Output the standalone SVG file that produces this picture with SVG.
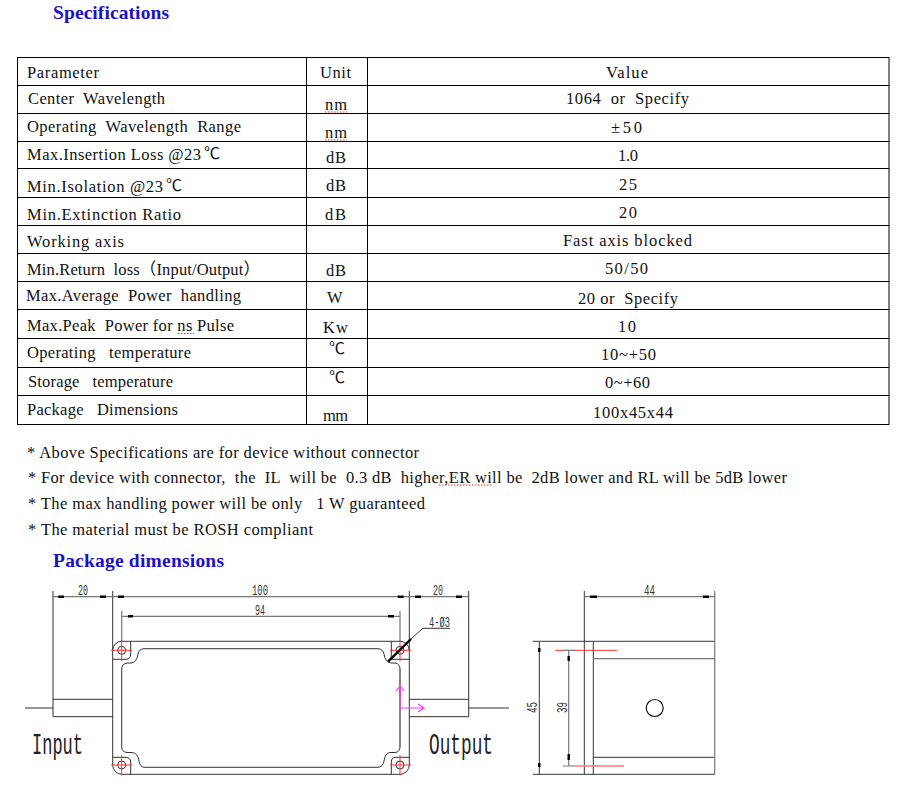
<svg xmlns="http://www.w3.org/2000/svg" width="907" height="789" viewBox="0 0 907 789">
<style>
text{font-family:"Liberation Serif","Noto Sans CJK SC",serif;font-size:16.5px;fill:#111;white-space:pre}
.h{font-weight:bold;font-size:19.5px;fill:#1c10c8}
.d{font-family:"Liberation Mono",monospace;font-size:14px;fill:#333}
.big{font-family:"Liberation Mono",monospace;font-size:30px;fill:#222}
.c{font-family:"Noto Sans CJK SC","Liberation Serif",sans-serif;font-size:16px}
.t{stroke:#000;stroke-width:1;fill:none}
.l{stroke:#333;stroke-width:1;fill:none}
.g{stroke:#777;stroke-width:1.2;fill:none}
.k{stroke:#000;stroke-width:2.4;fill:none}
.r{stroke:#f33;stroke-width:1;fill:none}
.rg{stroke:#f77;stroke-width:1.3;fill:none}
.m{stroke:#f3f;stroke-width:1.2;fill:none}
.w{stroke:#d33;stroke-width:1;fill:none;stroke-dasharray:1.5 1.5}
</style>
<rect width="907" height="789" fill="#fff"/>
<g id="headings">
<text class="h" x="53" y="18.5" textLength="116">Specifications</text>
<text class="h" x="53" y="566.5" textLength="171">Package dimensions</text>
</g>
<g id="table-grid">
<rect class="t" x="17.5" y="57.5" width="871.5" height="367"/>
<path class="t" d="M306.5 57.5V424.5M367.5 57.5V424.5M17.5 85.5H889M17.5 113.5H889M17.5 141.5H889M17.5 168.5H889M17.5 197.5H889M17.5 225.5H889M17.5 253.5H889M17.5 281.5H889M17.5 309.5H889M17.5 338.5H889M17.5 367.5H889M17.5 395.5H889"/>
</g>
<g id="table-parameter">
<text x="27" y="77.7" textLength="72">Parameter</text>
<text x="28" y="104" textLength="137">Center  Wavelength</text>
<text x="27" y="132" textLength="214">Operating  Wavelength  Range</text>
<text x="27" y="160" textLength="174">Max.Insertion Loss @23</text><text class="c" x="204" y="159">℃</text>
<text x="27" y="191.5" textLength="136">Min.Isolation @23</text><text class="c" x="166" y="190.5">℃</text>
<text x="27" y="219.7" textLength="154">Min.Extinction Ratio</text>
<text x="27" y="247.3" textLength="97">Working axis</text>
<text x="27" y="275" textLength="233">Min.Return  loss（Input/Output）</text>
<text x="26" y="301" textLength="215">Max.Average  Power  handling</text>
<text x="27" y="331" textLength="207">Max.Peak  Power for ns Pulse</text>
<text x="27" y="357.7" textLength="164">Operating   temperature</text>
<text x="28" y="386.7" textLength="145">Storage   temperature</text>
<text x="27" y="415" textLength="151">Package   Dimensions</text>
</g>
<g id="table-unit">
<text x="320" y="77.7" textLength="31">Unit</text>
<text x="325" y="110" textLength="22">nm</text>
<text x="325" y="138" textLength="22">nm</text>
<text x="326" y="162.7" textLength="20">dB</text>
<text x="326" y="190.7" textLength="20">dB</text>
<text x="325" y="219.7" textLength="21">dB</text>
<text x="326" y="275.7" textLength="20">dB</text>
<text x="327" y="303" textLength="16">W</text>
<text x="323" y="332.7" textLength="25">Kw</text>
<text class="c" x="329" y="354">℃</text>
<text class="c" x="329" y="382.7">℃</text>
<text x="323" y="420.7" textLength="25">mm</text>
<path class="w" d="M325 112H347M325 140H347"/>
</g>
<g id="table-value">
<text x="606" y="77.7" textLength="42">Value</text>
<text x="566" y="104" textLength="123">1064  or  Specify</text>
<text x="611" y="133" textLength="31">±50</text>
<text x="618" y="161" textLength="20">1.0</text>
<text x="619" y="190" textLength="18">25</text>
<text x="619" y="218" textLength="18">20</text>
<text x="563" y="246" textLength="129">Fast axis blocked</text>
<text x="605" y="274" textLength="43">50/50</text>
<text x="578" y="304" textLength="100">20 or  Specify</text>
<text x="618" y="332" textLength="18">10</text>
<text x="601" y="360" textLength="55">10~+50</text>
<text x="605" y="388" textLength="45">0~+60</text>
<text x="593" y="418" textLength="80">100x45x44</text>
</g>
<g id="notes">
<text x="27" y="458" textLength="392">* Above Specifications are for device without connector</text>
<text x="28" y="483" textLength="759">* For device with connector,  the  IL  will be  0.3 dB  higher,ER will be  2dB lower and RL will be 5dB lower</text>
<text x="28" y="508.7" textLength="397">* The max handling power will be only   1 W guaranteed</text>
<text x="28" y="534.7" textLength="285">* The material must be ROSH compliant</text>
<path class="w" d="M178 333.5H194M439 485H492"/>
</g>
<g id="front-view">
<path class="l" d="M112.7 591V765A9.3 9.3 0 0 0 121.7 774.3H400A9.3 9.3 0 0 0 409.3 765V591M121.7 641.3H400A9.3 9.3 0 0 1 409.3 650M121.7 641.3A9 9 0 0 0 112.7 650"/>
<path class="l" d="M144 648.7H378Q383 649 384 654Q385 662 391 663H395Q400 664 400 669V747Q400 752 395 752.5H390Q385 753 384 761Q383 767 378 767.3H144Q140 767 139 761Q138 753 132 752.5H127Q121.7 752 121.7 747V669Q121.7 664 127 663H131Q137 662 138 654Q139 649 144 648.7Z"/>
<path class="l" d="M112.7 659.3H126Q130.7 659 130.7 654V641.3M391.3 641.3V659.3H409.3M112.7 757.3H126Q130.7 757.5 130.7 762V774.3M391.3 774.3V762Q391.3 757.5 396 757.3H409.3"/>
<path class="l" d="M53 591V716.7H112.7M53 699.3H112.7M25 708H53M468.7 591V716.7H409.3M409.3 699.3H468.7M468.7 708H509"/>
<g class="l"><circle cx="121.7" cy="650.3" r="4"/><circle cx="121.7" cy="765" r="4"/><circle cx="400" cy="650.3" r="4"/><circle cx="400" cy="765" r="4"/></g>
<path class="r" d="M111 650.3H132M121.7 640V661M111 765H132M121.7 755V775.5M390 650.3H411M400 640V661M390 765H411M400 755V775.5"/>
<path class="g" d="M53 596.7H468.7M121.7 616.3H400M121.7 611V641M400 611V641M400 669V747"/>
<path class="k" d="M58.3 596.7H64M100 596.7H106M118 596.7H124M397.7 596.7H403.7M415 596.7H421M456 596.7H462M128 616.3H133M388 616.3H394M388 661.7L411 639"/>
<path class="l" d="M411 639L422.7 628.3H450"/>
<path class="m" d="M400 708V686M396 691L400 686L404 691M400 708H424M418 704L424 708L418 712"/>
<text class="d" x="78" y="594.5" textLength="10" lengthAdjust="spacingAndGlyphs">20</text>
<text class="d" x="252" y="594.5" textLength="16" lengthAdjust="spacingAndGlyphs">100</text>
<text class="d" x="255" y="615" textLength="10" lengthAdjust="spacingAndGlyphs">94</text>
<text class="d" x="433" y="594.5" textLength="10" lengthAdjust="spacingAndGlyphs">20</text>
<text class="d" x="429" y="626.5" textLength="21" lengthAdjust="spacingAndGlyphs">4-Ø3</text>
<text class="big" x="32" y="754" textLength="51" lengthAdjust="spacingAndGlyphs">Input</text>
<text class="big" x="429" y="754" textLength="64" lengthAdjust="spacingAndGlyphs">Output</text>
</g>
<g id="side-view">
<path class="l" d="M584.3 591V774.3M593.3 641.3V774.3M532.7 641.3H714.7M532.7 774.3H714.7M539.3 641.3V774.3M593.3 757.3H714.7"/>
<path class="g" d="M584.3 596.7H714.7M714.7 591V774.3M593.3 658.7H714.7M568.7 650.3V766M563 766H576M563 650.3H576"/>
<path class="r" d="M555.3 650.3H563M576 650.3H617"/>
<path class="rg" d="M576 766H624"/>
<path class="k" d="M590 596.7H597M703 596.7H709M539.3 648V652M539.3 763V767M568.7 656V661M568.7 754V760"/>
<circle cx="654.7" cy="708" r="8.5" fill="none" stroke="#111" stroke-width="1.2"/>
<text class="d" x="644" y="594.5" textLength="11" lengthAdjust="spacingAndGlyphs">44</text>
<text class="d" transform="translate(537 713) rotate(-90)" textLength="11" lengthAdjust="spacingAndGlyphs">45</text>
<text class="d" transform="translate(567 713) rotate(-90)" textLength="11" lengthAdjust="spacingAndGlyphs">39</text>
</g>
</svg>
